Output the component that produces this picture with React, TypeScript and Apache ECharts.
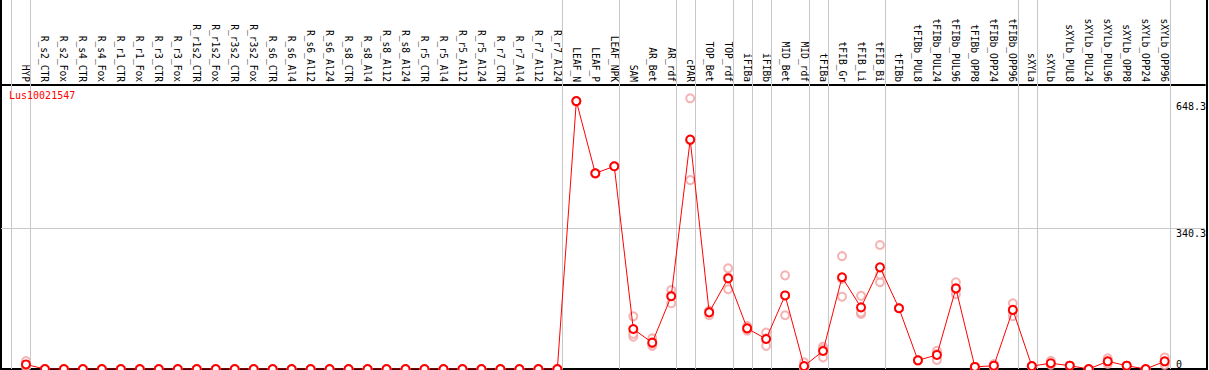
import React, { useEffect, useRef } from "react";
import * as echarts from "echarts";

const categories: string[] = [
  "HYP",
  "R_s2_CTR", "R_s2_Fox", "R_s4_CTR", "R_s4_Fox", "R_r1_CTR", "R_r1_Fox", "R_r3_CTR", "R_r3_Fox",
  "R_r1s2_CTR", "R_r1s2_Fox", "R_r3s2_CTR", "R_r3s2_Fox",
  "R_s6_CTR", "R_s6_Al4", "R_s6_Al12", "R_s6_Al24",
  "R_s8_CTR", "R_s8_Al4", "R_s8_Al12", "R_s8_Al24",
  "R_r5_CTR", "R_r5_Al4", "R_r5_Al12", "R_r5_Al24",
  "R_r7_CTR", "R_r7_Al4", "R_r7_Al12", "R_r7_Al24",
  "LEAF_N", "LEAF_P", "LEAF_NPK",
  "SAM", "AR_Bet", "AR_rdf",
  "cPAR",
  "TOP_Bet", "TOP_rdf",
  "iFIBa",
  "iFIBb",
  "MID_Bet", "MID_rdf",
  "tFIBa",
  "tFIB_Gr", "tFIB_Li", "tFIB_Bi",
  "tFIBb", "tFIBb_PUL8", "tFIBb_PUL24", "tFIBb_PUL96", "tFIBb_OPP8", "tFIBb_OPP24", "tFIBb_OPP96",
  "sXYLa",
  "sXYLb", "sXYLb_PUL8", "sXYLb_PUL24", "sXYLb_PUL96", "sXYLb_OPP8", "sXYLb_OPP24", "sXYLb_OPP96",
];

const zeros28: number[] = [0, 0, 0, 0, 0, 0, 0, 0, 0, 0, 0, 0, 0, 0, 0, 0, 0, 0, 0, 0, 0, 0, 0, 0, 0, 0, 0, 0];

const meanValues: number[] = [
  11, ...zeros28,
  648.3, 473.5, 490.5,
  96.8, 63.7, 176,
  555,
  137, 219.4,
  98.4,
  72.6,
  178, 7,
  43.5,
  222, 149, 246,
  147, 21, 34, 195, 5, 8, 143,
  7,
  14, 8, 0, 18.6, 8, 0, 18.6,
];

const replicateA: number[] = [
  19, ...zeros28,
  648.3, 473.5, 490.5,
  127.5, 74, 191,
  655,
  141, 243.6,
  104,
  88,
  226.6, 16,
  54,
  273, 177, 300,
  147, 21, 44, 210, 5, 12, 159,
  7,
  20, 8, 0, 26, 8, 0, 28,
];

const replicateB: number[] = [
  5, ...zeros28,
  648.3, 473.5, 490.5,
  78.2, 56, 159,
  457,
  130, 193,
  93,
  56,
  130, 2,
  28,
  175, 133, 210,
  147, 21, 22, 181, 5, 5, 128,
  7,
  10, 8, 0, 12, 8, 0, 10,
];

const replicateC: number[] = [
  9, ...zeros28,
  648.3, 473.5, 490.5,
  85, 61, 178,
  553,
  140, 222,
  98,
  74,
  178, 3,
  48,
  218, 137, 228,
  147, 21, 36, 194, 5, 7, 142,
  7,
  12, 8, 0, 18, 8, 0, 18,
];

// index of the last sample in each tissue group (-1 = before the first)
const groupEnds: number[] = [-1, 0, 28, 31, 34, 35, 37, 38, 39, 41, 42, 45, 52, 53, 60];

const yTickValues: number[] = [0, 340.3, 648.3];
const yMax = 687.2;
const geneName = "Lus10021547";

const MONO = "'DejaVu Sans Mono', monospace";

export default function App() {
  const ref = useRef<HTMLDivElement>(null);

  useEffect(() => {
    document.body.style.margin = "0";
    if (!ref.current) return;
    const chart = echarts.init(ref.current, null, { renderer: "svg" });

    const xMin = -1.315;
    const xMax = 62.12;
    const idx = categories.map((_, i) => i);

    const pairs = (arr: number[]) => arr.map((v, i) => [i, v]);

    const frameAxis = (position: string) => ({
      gridIndex: 0,
      type: "value",
      min: 0,
      max: 1,
      position,
      axisLine: { show: true, onZero: false, lineStyle: { color: "#000", width: 2 } },
      axisTick: { show: false },
      axisLabel: { show: false },
      splitLine: { show: false },
    });

    const option: any = {
      animation: false,
      backgroundColor: "#ffffff",
      title: {
        text: geneName,
        left: 9,
        top: 90,
        padding: 0,
        textStyle: { color: "#ff0000", fontSize: 10, fontWeight: "normal", fontFamily: MONO },
      },
      grid: [
        { left: 1, right: 2, top: 0, bottom: 1, show: false },
        { left: 1, right: 2, top: 85, bottom: 1, show: false },
      ],
      xAxis: [
        {
          gridIndex: 0,
          type: "value",
          min: xMin,
          max: xMax,
          position: "bottom",
          axisLine: { show: true, onZero: false, lineStyle: { color: "#000", width: 2 } },
          axisTick: { show: false },
          axisLabel: { show: false },
          splitLine: { show: false },
        },
        {
          gridIndex: 1,
          type: "value",
          min: xMin,
          max: xMax,
          position: "top",
          axisLine: { show: true, onZero: false, lineStyle: { color: "#000", width: 2 } },
          axisTick: { show: false },
          splitLine: { show: false },
          axisLabel: {
            show: true,
            customValues: idx,
            rotate: 90,
            margin: 3,
            color: "#000",
            fontSize: 9.6,
            fontFamily: MONO,
            formatter: (v: number) => categories[Math.round(v)] ?? "",
            hideOverlap: false,
            showMinLabel: true,
            showMaxLabel: true,
          },
        },
      ],
      yAxis: [
        frameAxis("left"),
        frameAxis("right"),
        {
          gridIndex: 1,
          type: "value",
          min: 0,
          max: yMax,
          position: "right",
          axisLine: { show: false, onZero: false },
          axisTick: { show: false },
          splitLine: { show: false },
          axisLabel: {
            show: true,
            inside: true,
            customValues: yTickValues,
            align: "left",
            margin: 29,
            verticalAlign: "top",
            verticalAlignMinLabel: "bottom",
            color: "#000",
            fontSize: 10,
            fontFamily: MONO,
            formatter: (v: number) => String(v),
          },
        },
      ],
      series: [
        {
          type: "line",
          xAxisIndex: 0,
          yAxisIndex: 0,
          data: [],
          silent: true,
          markLine: {
            silent: true,
            symbol: "none",
            label: { show: false },
            lineStyle: { color: "#c8c8c8", width: 1, type: "solid" },
            data: groupEnds.map((g) => ({ xAxis: g + 0.2 })),
          },
        },
        {
          type: "line",
          xAxisIndex: 1,
          yAxisIndex: 2,
          data: [],
          silent: true,
          markLine: {
            silent: true,
            symbol: "none",
            label: { show: false },
            lineStyle: { color: "#c8c8c8", width: 1, type: "solid" },
            data: [{ yAxis: yTickValues[1] }],
          },
        },
        ...[replicateA, replicateB, replicateC].map((rep) => ({
          type: "scatter",
          xAxisIndex: 1,
          yAxisIndex: 2,
          data: pairs(rep),
          symbol: "emptyCircle",
          symbolSize: 8,
          itemStyle: { color: "#f2a0a0", borderColor: "#f2a0a0", borderWidth: 1.3 },
          z: 3,
          silent: true,
        })),
        {
          type: "line",
          xAxisIndex: 1,
          yAxisIndex: 2,
          data: pairs(meanValues),
          symbol: "emptyCircle",
          symbolSize: 8,
          showAllSymbol: true,
          lineStyle: { color: "#ff0000", width: 1 },
          itemStyle: { color: "#ff0000", borderColor: "#ff0000", borderWidth: 1.3 },
          z: 5,
          silent: true,
        },
      ],
    };

    chart.setOption(option);
    return () => chart.dispose();
  }, []);

  return (
    <div
      ref={ref}
      style={{ position: "absolute", left: 0, top: 0, width: 1209, height: 370, background: "#fff" }}
    />
  );
}
